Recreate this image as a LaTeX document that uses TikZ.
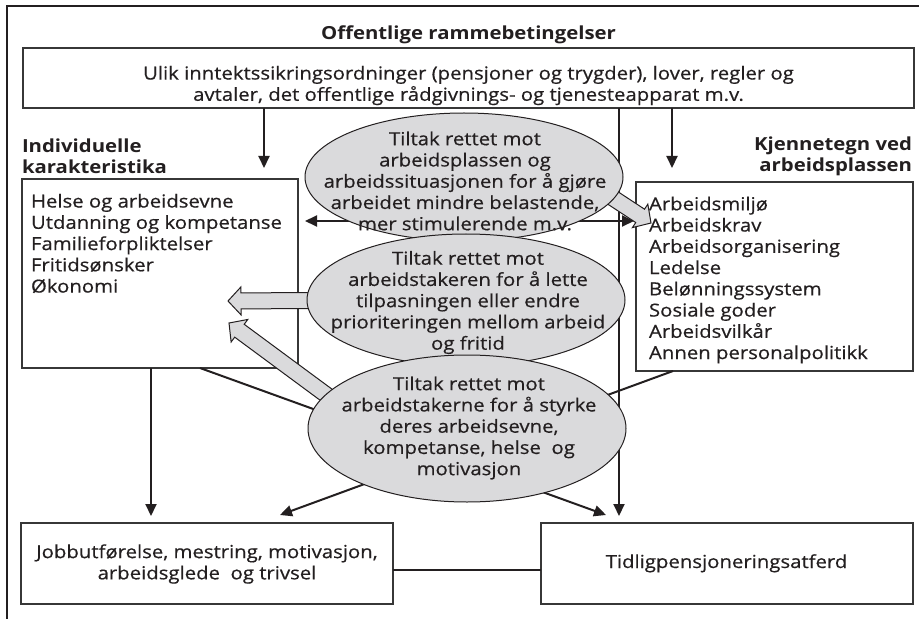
\documentclass[tikz,border=0pt]{standalone}
\usepackage{fontspec}
\setmainfont{Open Sans}[FakeStretch=1.13, UprightFeatures={FakeBold=0.5}]
\usetikzlibrary{calc,arrows.meta,shapes.geometric}
\definecolor{ink}{RGB}{35,31,32}
\definecolor{boxline}{RGB}{55,55,55}
\definecolor{ovalfill}{RGB}{218,218,220}
\newcommand\fs{\fontsize{18bp}{21.25bp}\selectfont}
\newcommand\blockarrow[2]{%
  \coordinate (ba-c) at ($(#2)!13bp!(#1)$);
  \filldraw[blk] ($(#1)!8bp!90:(#2)$) -- ($(ba-c)!8bp!90:(#2)$) -- ($(ba-c)!14bp!90:(#2)$) -- (#2)
    -- ($(ba-c)!14bp!-90:(#2)$) -- ($(ba-c)!8bp!-90:(#2)$) -- ($(#1)!8bp!-90:(#2)$) -- cycle;}
\begin{document}
\begin{tikzpicture}[x=1bp,y=-1bp,
  every node/.style={font=\fs, text=ink, inner sep=0pt, outer sep=0pt},
  box/.style={draw=boxline, line width=1.3bp, fill=white, rectangle},
  conn/.style={draw=ink, line width=2bp},
  arr/.style={conn, -{Triangle[length=12bp,width=11bp]}},
  oval/.style={ellipse, draw=ink, line width=1bp, fill=ovalfill},
  blk/.style={draw=ink, line width=1bp, fill=ovalfill, line join=miter},
  hd/.style={font=\fs\bfseries}]
\useasboundingbox (0,0) rectangle (919,619);
% outer frame
\draw[ink, line width=2.2bp] (7,619) -- (7,6) -- (919,6);
% title
\node[hd, anchor=base] (title) at (468.5,40) {Offentlige rammebetingelser};
% boxes
\node[box, minimum width=891bp, minimum height=60bp, anchor=north west] (top) at (23,48) {};
\node[align=center] (toptxt) at (468.5,85.5) {Ulik inntektssikringsordninger (pensjoner og trygder), lover, regler og\\avtaler, det offentlige rådgivnings- og tjenesteapparat m.v.};
\node[hd, align=left, anchor=west] (llab) at (22,156) {Individuelle\\karakteristika};
\node[hd, align=right, anchor=east] (rlab) at (912,156) {Kjennetegn ved\\arbeidsplassen};
\node[box, minimum width=276bp, minimum height=189bp, anchor=north west] (lbox) at (22,179) {};
\node[align=left, anchor=west] (ltxt) at (31,243.5) {Helse og arbeidsevne\\Utdanning og kompetanse\\Familieforpliktelser\\Fritidsønsker\\Økonomi};
\node[box, minimum width=277bp, minimum height=189bp, anchor=north west] (rbox) at (636,182) {};
\node[align=left, anchor=west] (rtxt) at (649,280) {Arbeidsmiljø\\Arbeidskrav\\Arbeidsorganisering\\Ledelse\\Belønningssystem\\Sosiale goder\\Arbeidsvilkår\\Annen personalpolitikk};
\node[box, minimum width=372bp, minimum height=81bp, anchor=north west] (jbox) at (21,523) {};
\node[align=center] (jtxt) at (207,564) {Jobbutførelse, mestring, motivasjon,\\arbeidsglede\ \ og trivsel};
\node[box, minimum width=372bp, minimum height=81bp, anchor=north west] (tbox) at (541,523) {};
\node[anchor=base] (ttxt) at (726.5,568) {Tidligpensjoneringsatferd};
% helper coordinates
\coordinate (xa) at (264,0);
\coordinate (xb) at (151,0);
\coordinate (xc) at (619,0);
\coordinate (xd) at (200,0);
\coordinate (xf) at (672,0);
\coordinate (xg) at (673,0);
\coordinate (yh) at (0,221);
\coordinate (yj) at (0,570);
% connectors
\draw[arr, shorten >=11bp] (top.south -| xa) -- (lbox.north -| xa);
\draw[arr, shorten >=14bp] (top.south -| xf) -- (rbox.north -| xf);
\draw[arr, shorten >=7bp] (top.south -| xc) -- (tbox.north -| xc);
\draw[arr, shorten >=7bp] (lbox.south -| xb) -- (jbox.north -| xb);
\draw[conn, {Triangle[length=12bp,width=11bp]}-{Triangle[length=12bp,width=11bp]}, shorten >=7bp, shorten <=2bp] (rbox.west |- yh) -- (lbox.east |- yh);
\draw[arr] (lbox.south -| xd) -- ($(tbox.north west)+(65,-8)$);
\draw[arr] (rbox.south -| xg) -- ($(jbox.north west)+(259,-8)$);
\draw[conn] (jbox.east |- yj) -- (tbox.west |- yj);
% block arrows
\coordinate (b1s) at (584,179);
\coordinate (b1t) at (651,223);
\coordinate (b2s) at (400,300);
\coordinate (b2t) at (228,301);
\coordinate (b3s) at (340,405);
\coordinate (b3t) at (229,323);
\blockarrow{b1s}{b1t}
\blockarrow{b2s}{b2t}
\blockarrow{b3s}{b3t}
% ellipses
\node[oval, minimum width=318bp, minimum height=128bp] (e1) at (464,177) {};
\node[align=center] (e1txt) at (465,181) {Tiltak rettet mot\\arbeidsplassen og\\arbeidssituasjonen for å gjøre\\arbeidet mindre belastende,\\mer stimulerende m.v.};
\node[oval, minimum width=318bp, minimum height=132bp] (e2) at (466,300) {};
\node[align=center] (e2txt) at (468,302.5) {Tiltak rettet mot\\arbeidstakeren for å lette\\tilpasningen eller endre\\prioriteringen mellom arbeid\\og fritid};
\node[oval, minimum width=318bp, minimum height=147bp] (e3) at (467,428.5) {};
\node[align=center] (e3txt) at (469,428) {Tiltak rettet mot\\arbeidstakerne for å styrke\\deres arbeidsevne,\\kompetanse, helse\ \ og\\motivasjon};
\end{tikzpicture}
\end{document}
